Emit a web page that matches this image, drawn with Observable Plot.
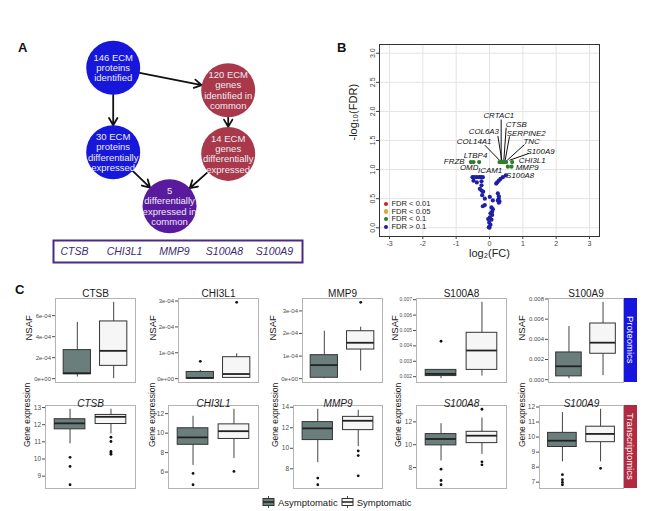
<!DOCTYPE html>
<html><head><meta charset="utf-8">
<script src="https://cdn.jsdelivr.net/npm/d3@7"></script>
<script src="https://cdn.jsdelivr.net/npm/@observablehq/plot@0.6"></script>
<style>
body{margin:0;background:#fff;}
#root{position:relative;width:666px;height:511px;overflow:hidden;background:#fff;font-family:"Liberation Sans",Arial,sans-serif;}
.abs{position:absolute;}
.plab{position:absolute;font-weight:bold;font-size:13px;color:#111;}
.strip{position:absolute;color:#fff;writing-mode:vertical-rl;text-align:center;font-size:9.5px;line-height:13px;}
</style></head><body><div id="root"></div>
<script>
// ---------- Panel A data ----------
const nodeLabels = ["146 ECM\nproteins\nidentified","120 ECM\ngenes\nidentified in\ncommon","30 ECM\nproteins\ndifferentially\nexpressed","14 ECM\ngenes\ndifferentially\nexpressed","5\ndifferentially\nexpressed in\ncommon"];
const nodeCol = [0, 1, 0, 1, 0.49];
const nodeRow = [0, 0.4, 1.5, 1.53, 2.46];
const nodeKind = ["proteomics","transcriptomics","proteomics","transcriptomics","common"];
const edgeFrom = [0, 0, 1, 2, 3];
const edgeTo   = [1, 2, 3, 4, 4];
const commonGenes = ["CTSB","CHI3L1","MMP9","S100A8","S100A9"];

// ---------- Panel B data ----------
const volcanoFC = [-0.56,-0.48,-0.31,0.30,0.34,0.38,0.42,0.46,0.50,0.68,0.55,0.66,
  -0.51,-0.45,-0.38,-0.31,-0.26,-0.20,0.49,0.40,0.33,0.28,0.23,0.20,
  -0.48,-0.38,-0.24,-0.24,-0.29,-0.24,-0.19,-0.22,-0.14,
  0.01,0.10,0.28,0.25,0.28,0.25,0.28,0.30,
  -0.20,-0.14,0.06,0.10,0.08,0.03,0.08,0.01,-0.04,0.06,-0.01,0.03,-0.02,0.00];
const volcanoNegLogFDR = [1.13,1.13,1.13,1.13,1.13,1.13,1.13,1.13,1.13,1.13,1.05,1.05,
  0.87,0.87,0.87,0.87,0.87,0.87,0.90,0.87,0.84,0.81,0.78,0.76,
  0.81,0.78,0.80,0.73,0.67,0.64,0.62,0.56,0.50,
  0.53,0.47,0.54,0.47,0.43,0.59,0.50,0.45,
  0.37,0.39,0.35,0.32,0.28,0.25,0.22,0.18,0.15,0.14,0.09,0.05,0.01,0.00];
const volcanoClass = volcanoFC.map((d,i)=> volcanoNegLogFDR[i] > 1 ? "FDR < 0.1" : "FDR > 0.1");
const fdrClasses = ["FDR < 0.01","FDR < 0.05","FDR < 0.1","FDR > 0.1"];
const fdrColors  = ["#b8282e","#e0a23a","#2e7d2e","#1f1fa3"];
const volcLabelGene = ["CRTAC1","CTSB","COL6A3","SERPINE2","COL14A1","TNC","S100A9","LTBP4","FRZB","CHI3L1","OMD","ICAM1","MMP9","S100A8"];
const volcLabelX = [0.28,0.80,-0.17,1.10,-0.46,1.26,1.53,-0.42,-1.06,1.28,-0.61,0.02,1.13,0.92];
const volcLabelY = [1.93,1.78,1.65,1.625,1.49,1.475,1.32,1.24,1.14,1.16,1.03,0.98,1.03,0.90];
const leaderGene = ["CRTAC1","CTSB","COL6A3","SERPINE2","COL14A1","TNC","S100A9"];
const leaderX1 = [0.35,0.50,0.25,0.60,-0.14,1.05,1.19];
const leaderY1 = [1.86,1.72,1.58,1.57,1.42,1.43,1.28];
const leaderX2 = [0.35,0.43,0.37,0.47,0.30,0.53,0.60];
const leaderY2 = [1.16,1.16,1.16,1.16,1.16,1.16,1.16];
const volcXTicks = [-3,-2,-1,0,1,2,3];
const volcYTicks = [0,0.5,1,1.5,2,2.5,3];

// ---------- Panel C data ----------
const genes = ["CTSB","CHI3L1","MMP9","S100A8","S100A9"];
const groups = ["Asymptomatic","Symptomatic"];
// proteomics NSAF: [asymptomatic, symptomatic]
const protLow  = [[0.16e-4,0],[0,0.03e-4],[0,0.34e-4],[0.00187,0.00204],[0.0001,0.0004]];
const protQ1   = [[0.42e-4,1.22e-4],[0,0.03e-4],[0.04e-4,1.29e-4],[0.00204,0.00244],[0.00033,0.00257]];
const protMed  = [[0.52e-4,2.65e-4],[0.03e-4,0.18e-4],[0.6e-4,1.59e-4],[0.00218,0.0037],[0.00133,0.00367]];
const protQ3   = [[2.72e-4,5.45e-4],[0.26e-4,0.83e-4],[1.04e-4,2.1e-4],[0.00244,0.00485],[0.0027,0.00557]];
const protHigh = [[5.36e-4,7.27e-4],[0.32e-4,0.96e-4],[2.1e-4,2.28e-4],[0.00244,0.00683],[0.00527,0.00767]];
const protOut  = [[[],[]],[[0.67e-4],[2.95e-4]],[[],[3.38e-4]],[[0.0043],[]],[[],[]]];
const protTicks = [[0,2e-4,4e-4,6e-4],[0,1e-4,2e-4,3e-4],[0,1e-4,2e-4,3e-4],[0.002,0.003,0.004,0.005,0.006,0.007],[0,0.002,0.004,0.006,0.008]];
const protTickLabels = [["0e+00","2e-04","4e-04","6e-04"],["0e+00","1e-04","2e-04","3e-04"],["0e+00","1e-04","2e-04","3e-04"],["0.002","0.003","0.004","0.005","0.006","0.007"],["0.000","0.002","0.004","0.006","0.008"]];
// transcriptomics gene expression
const txLow  = [[10.88,11.46],[6.68,7.4],[8.6,10.16],[8.58,9.15],[8.35,8.35]];
const txQ1   = [[11.73,12.04],[8.8,9.4],[10.8,11.77],[9.94,10.14],[9.34,9.66]];
const txMed  = [[12.08,12.46],[9.56,10.2],[11.94,12.68],[10.5,10.79],[9.76,10.21]];
const txQ3   = [[12.32,12.57],[10.5,10.9],[12.55,13.06],[10.93,11.13],[10.28,10.69]];
const txHigh = [[12.9,12.9],[11.73,12.45],[13.8,13.7],[11.84,12.33],[11.63,11.85]];
const txOut  = [[[10.1,9.57,8.5],[11.27,11.02,10.44,10.35,10.27]],[[5.86,4.7],[6.07]],[[7.1,6.45],[9.74,9.29,7.32]],[[7.86,6.87,6.5],[8.5,8.24,13.1]],[[7.5,7.16,6.99,6.83],[7.92]]];
const txTicks = [[9,10,11,12,13],[6,8,10,12],[8,10,12,14],[8,10,12],[7,8,9,10,11,12]];
const txTickLabels = txTicks.map(t => t.map(String));

// ---------- styling / layout ----------
const FONT = '"Liberation Sans", Arial, sans-serif';
const nodeColors = {proteomics:"#1717dc", transcriptomics:"#a8384a", common:"#5a1a9e"};
const groupFill = ["#6a7e7b","#f6f6f6"];
const root = document.getElementById("root");
function place(el, left, top){ const d=document.createElement("div"); d.className="abs"; d.style.left=left+"px"; d.style.top=top+"px"; d.appendChild(el); root.appendChild(d); return d; }
function html(tag, cls, text, css){ const e=document.createElement(tag); if(cls) e.className=cls; if(text!=null) e.textContent=text; Object.assign(e.style, css||{}); root.appendChild(e); return e; }
const baseStyle = {fontFamily: FONT, background: "transparent", overflow: "visible", maxWidth: "none"};

// ---------- Panel A ----------
const nodes = nodeLabels.map((t,i)=>({t, x: nodeCol[i], y: nodeRow[i], kind: nodeKind[i]}));
const edges = edgeFrom.map((f,i)=>({x1: nodes[f].x, y1: nodes[f].y, x2: nodes[edgeTo[i]].x, y2: nodes[edgeTo[i]].y}));
place(Plot.plot({
  width: 330, height: 240, margin: 0,
  x: {domain: [0,1], range: [112.7,227.7], axis: null},
  y: {domain: [0,1.5], range: [37.3,121.7], axis: null},
  style: baseStyle,
  marks: [
    Plot.arrow(edges, {x1:"x1", y1:"y1", x2:"x2", y2:"y2", stroke:"#111", strokeWidth:1.8, insetStart:27, insetEnd:27, headLength:7}),
    Plot.dot(nodes, {x:"x", y:"y", r:27, fill: d => nodeColors[d.kind], stroke:"none"}),
    Plot.text(nodes, {x:"x", y:"y", text:"t", fill:"#ececf4", fontSize:9.5, lineHeight:1.08})
  ]
}), 0, 30);
place(Plot.plot({
  width: 251, height: 24, margin: 0,
  x: {type:"point", domain: commonGenes, range:[21,223], padding:0, axis:null},
  style: baseStyle,
  marks: [
    Plot.frame({stroke:"#4b2a86", strokeWidth:2, inset:1}),
    Plot.text(commonGenes, {x: d=>d, text: d=>d, frameAnchor:"middle", fontStyle:"italic", fontSize:10.5, fill:"#3c2a70"})
  ]
}), 52, 239);

// ---------- Panel B ----------
const volc = volcanoFC.map((x,i)=>({x, y: volcanoNegLogFDR[i], c: volcanoClass[i]}));
const vlabels = volcLabelGene.map((g,i)=>({g, x: volcLabelX[i], y: volcLabelY[i]}));
const leaders = leaderGene.map((g,i)=>({x1: leaderX1[i], y1: leaderY1[i], x2: leaderX2[i], y2: leaderY2[i]}));
place(Plot.plot({
  width: 290, height: 240, marginLeft: 49, marginRight: 21, marginTop: 14, marginBottom: 34,
  x: {domain: [-3.3,3.3]}, y: {domain: [-0.15,3.15]},
  color: {domain: fdrClasses, range: fdrColors},
  style: {...baseStyle, color: "#444"},
  marks: [
    Plot.gridX({ticks: volcXTicks, stroke:"#e4e4e4", strokeOpacity:1}),
    Plot.gridY({ticks: volcYTicks, stroke:"#e4e4e4", strokeOpacity:1}),
    Plot.frame({stroke:"#333"}),
    Plot.axisX({ticks: volcXTicks, tickFormat: d => String(d), tickSize:3, tickPadding:2, fontSize:7, label:null}),
    Plot.axisY({ticks: volcYTicks, tickFormat: d3.format(".1f"), tickRotate:-90, tickSize:3, tickPadding:2, fontSize:7, label:null}),
    Plot.link(leaders, {x1:"x1", y1:"y1", x2:"x2", y2:"y2", stroke:"#111", strokeWidth:1}),
    Plot.dot(volc, {x:"x", y:"y", fill:"c", r:2.1}),
    Plot.text(vlabels, {x:"x", y:"y", text:"g", fontStyle:"italic", fontSize:7.9, fill:"#111"}),
    Plot.text(["log\u2082(FC)"], {frameAnchor:"bottom", dy:20, fontSize:11, fill:"#222"}),
    Plot.text(["-log\u2081\u2080(FDR)"], {frameAnchor:"left", dx:-26, rotate:-90, fontSize:11, fill:"#222"})
  ]
}), 330, 30);
// legend inside B
const leg = html("div", "abs", null, {left:"384px", top:"200px", fontSize:"7.6px", lineHeight:"7.7px", color:"#222"});
fdrClasses.forEach((c,i)=>{
  const row = document.createElement("div");
  row.style.display="flex"; row.style.alignItems="center"; row.style.height="7.7px";
  const dot = document.createElement("span");
  Object.assign(dot.style,{display:"inline-block",width:"4.4px",height:"4.4px",borderRadius:"50%",background:fdrColors[i],marginRight:"3px"});
  row.appendChild(dot); row.appendChild(document.createTextNode(c)); leg.appendChild(row);
});

// ---------- Panel C ----------
const topFrames = [{x:55,w:80},{x:178,w:80},{x:302,w:80},{x:416,w:90},{x:548,w:75}];
const botFrames = [{x:45,w:90},{x:168,w:90},{x:293,w:89},{x:416,w:90},{x:539,w:84}];
const topYlabOff = [27,26,30,22,27], botYlabOff = [18,16,18,18,17];
const topTickFont = [6,6,6,5,6];

function boxPanel(i, S, frame, fy, fh, opts){
  const rows = groups.map((g,j)=>({g:j+1, lo:S.lo[i][j], q1:S.q1[i][j], med:S.med[i][j], q3:S.q3[i][j], hi:S.hi[i][j]}));
  const outs = S.out[i].flatMap((vs,j)=>vs.map(v=>({g:j+1, v})));
  const all = [...rows.flatMap(r=>[r.lo,r.hi]), ...outs.map(o=>o.v)];
  const mn = d3.min(all), mx = d3.max(all), pad = (mx-mn)*0.05;
  const ticks = S.ticks[i], labels = S.labels[i];
  const mL = 48, mT = 16, mR = 1, mB = 6;
  const p = Plot.plot({
    width: frame.w + mL + mR, height: fh + mT + mB,
    marginLeft: mL, marginRight: mR, marginTop: mT, marginBottom: mB,
    x: {domain:[0.4,2.6], axis:null},
    y: {domain:[mn-pad, mx+pad]},
    style: {...baseStyle, color:"#4d4d4d"},
    marks: [
      Plot.frame({stroke:"#b3b3b3"}),
      Plot.axisY({ticks, tickFormat: d => labels[ticks.indexOf(d)], tickSize:3, tickPadding:1.5, fontSize: opts.tickFont, label:null}),
      Plot.ruleX(rows, {x:"g", y1:"lo", y2:"q1", stroke:"#444", strokeWidth:1}),
      Plot.ruleX(rows, {x:"g", y1:"q3", y2:"hi", stroke:"#444", strokeWidth:1}),
      Plot.rect(rows, {x1: d=>d.g-0.375, x2: d=>d.g+0.375, y1:"q1", y2:"q3", fill: d=>groupFill[d.g-1], stroke:"#333", strokeWidth:1}),
      Plot.ruleY(rows, {y:"med", x1: d=>d.g-0.375, x2: d=>d.g+0.375, stroke:"#222", strokeWidth:1.8}),
      Plot.dot(outs, {x:"g", y:"v", r:1.4, fill:"#111", stroke:"none"}),
      Plot.text([genes[i]], {frameAnchor:"top", dy: opts.titleDy, fontSize:10, fill:"#1a1a1a", fontStyle: opts.italic ? "italic":"normal"}),
      Plot.text([opts.ylab], {frameAnchor:"left", dx: -opts.ylabOff, rotate:-90, fontSize: opts.ylabFont, fill:"#1a1a1a"})
    ]
  });
  place(p, frame.x - mL, fy - mT);
}
const protS = {lo:protLow, q1:protQ1, med:protMed, q3:protQ3, hi:protHigh, out:protOut, ticks:protTicks, labels:protTickLabels};
const txS = {lo:txLow, q1:txQ1, med:txMed, q3:txQ3, hi:txHigh, out:txOut, ticks:txTicks, labels:txTickLabels};
genes.forEach((g,i)=>{
  boxPanel(i, protS, topFrames[i], 298, 84, {ylab:"NSAF", ylabOff: topYlabOff[i], ylabFont:9.5, tickFont: topTickFont[i], titleDy:-9, italic:false});
  boxPanel(i, txS, botFrames[i], 405, 83, {ylab:"Gene expression", ylabOff: botYlabOff[i], ylabFont:8.5, tickFont:6.5, titleDy:-6, italic:true});
});
html("div","strip","Proteomics",{left:"624px", top:"298px", width:"13px", height:"84px", background:"#1616de"});
html("div","strip","Transcriptomics",{left:"624px", top:"405px", width:"13px", height:"83px", background:"#b22a40"});

// legend bottom
function icon(fill){
  const ns="http://www.w3.org/2000/svg";
  const s=document.createElementNS(ns,"svg"); s.setAttribute("width","13"); s.setAttribute("height","12");
  s.innerHTML = `<line x1="6.5" y1="0" x2="6.5" y2="12" stroke="#444"/><rect x="1" y="2.5" width="11" height="7" fill="${fill}" stroke="#333"/><line x1="1" y1="6" x2="12" y2="6" stroke="#222" stroke-width="1.5"/>`;
  s.style.marginRight="3px"; return s;
}
const bleg = html("div","abs",null,{left:"262px", top:"496px", display:"flex", alignItems:"center", fontSize:"9.5px", color:"#1a1a1a"});
groups.forEach((g,j)=>{
  const sp=document.createElement("span"); sp.style.display="flex"; sp.style.alignItems="center"; sp.style.marginRight="3px";
  sp.appendChild(icon(groupFill[j])); sp.appendChild(document.createTextNode(g)); bleg.appendChild(sp);
});

// panel letters
html("div","plab","A",{left:"18px", top:"40px"});
html("div","plab","B",{left:"337px", top:"40px"});
html("div","plab","C",{left:"15px", top:"282px"});
</script></body></html>
